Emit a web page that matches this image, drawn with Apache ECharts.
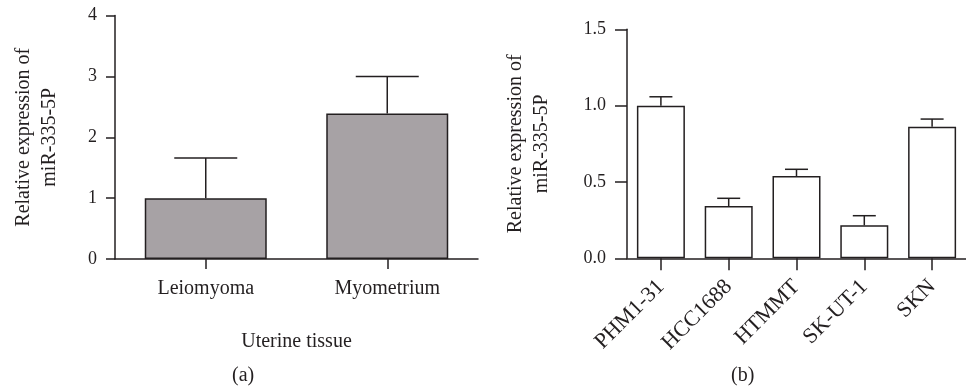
<!DOCTYPE html>
<html>
<head>
<meta charset="utf-8">
<script src="https://cdn.jsdelivr.net/npm/echarts@6/dist/echarts.min.js"></script>
<style>
  html, body { margin: 0; padding: 0; background: #fff; }
  #chart { width: 966px; height: 392px; }
</style>
</head>
<body>
<div id="chart"></div>
<script>
// panel (a): uterine tissue
const tissueCats = ['Leiomyoma', 'Myometrium'];
const tissueMean = [1.0, 2.39];
const tissueErrTop = [1.66, 3.0];

// panel (b): cell lines
const cellCats = ['PHM1-31', 'HCC1688', 'HTMMT', 'SK-UT-1', 'SKN'];
const cellMean = [1.0, 0.342, 0.539, 0.216, 0.862];
const cellErrTop = [1.058, 0.393, 0.583, 0.279, 0.912];

const ink = '#231f20';
const font = 'Liberation Serif';

const chart = echarts.init(document.getElementById('chart'));

const errorSeries = (xi, mean, top, cap) => ({
  type: 'custom',
  xAxisIndex: xi,
  yAxisIndex: xi,
  data: mean.map((m, i) => [i, m, top[i]]),
  encode: { x: 0, y: [1, 2] },
  silent: true,
  z: 3,
  renderItem: (params, api) => {
    const base = api.coord([api.value(0), api.value(1)]);
    const tip = api.coord([api.value(0), api.value(2)]);
    const st = { stroke: ink, lineWidth: 1.5 };
    return {
      type: 'group',
      children: [
        { type: 'line', shape: { x1: base[0], y1: base[1], x2: tip[0], y2: tip[1] }, style: st },
        { type: 'line', shape: { x1: tip[0] - cap / 2, y1: tip[1], x2: tip[0] + cap / 2, y2: tip[1] }, style: st }
      ]
    };
  }
});

const axisLine = { show: true, lineStyle: { color: ink, width: 1.5 } };
const nameStyle = { fontFamily: font, fontSize: 20, color: ink, lineHeight: 26 };

const option = {
  animation: false,
  backgroundColor: '#fff',
  textStyle: { fontFamily: font },
  grid: [
    { left: 115, top: 15.5, width: 363, height: 243.5 },
    { left: 627, top: 29.3, width: 350, height: 229 }
  ],
  xAxis: [
    {
      gridIndex: 0,
      type: 'category',
      data: tissueCats,
      axisLine,
      axisTick: { show: true, alignWithLabel: true, length: 10, lineStyle: { color: ink, width: 1.5 } },
      axisLabel: { fontFamily: font, fontSize: 20, color: ink, margin: 20 },
      name: 'Uterine tissue',
      nameLocation: 'middle',
      nameGap: 70,
      nameTextStyle: nameStyle
    },
    {
      gridIndex: 1,
      type: 'category',
      data: cellCats,
      axisLine,
      axisTick: { show: true, alignWithLabel: true, length: 12, lineStyle: { color: ink, width: 1.5 } },
      axisLabel: { fontFamily: font, fontSize: 22, color: ink, margin: 25, rotate: 45 }
    }
  ],
  yAxis: [
    {
      gridIndex: 0,
      type: 'value',
      min: 0,
      max: 4,
      interval: 1,
      axisLine,
      axisTick: { show: true, length: 9, lineStyle: { color: ink, width: 1.5 } },
      splitLine: { show: false },
      axisLabel: { fontFamily: font, fontSize: 18, color: ink, margin: 18 },
      name: 'Relative expression of\nmiR-335-5P',
      nameLocation: 'middle',
      nameRotate: 90,
      nameGap: 52,
      nameTextStyle: nameStyle
    },
    {
      gridIndex: 1,
      type: 'value',
      min: 0,
      max: 1.5,
      interval: 0.5,
      axisLine,
      axisTick: { show: true, length: 12, lineStyle: { color: ink, width: 1.5 } },
      splitLine: { show: false },
      axisLabel: { fontFamily: font, fontSize: 18, color: ink, margin: 21, formatter: (v) => v.toFixed(1) },
      name: 'Relative expression of\nmiR-335-5P',
      nameLocation: 'middle',
      nameRotate: 90,
      nameGap: 72,
      nameTextStyle: nameStyle
    }
  ],
  series: [
    {
      type: 'bar',
      xAxisIndex: 0,
      yAxisIndex: 0,
      data: tissueMean,
      barWidth: 122,
      itemStyle: { color: '#a7a2a5', borderColor: ink, borderWidth: 1.5 }
    },
    errorSeries(0, tissueMean, tissueErrTop, 63),
    {
      type: 'bar',
      xAxisIndex: 1,
      yAxisIndex: 1,
      data: cellMean,
      barWidth: 48,
      itemStyle: { color: '#fff', borderColor: ink, borderWidth: 1.5 }
    },
    errorSeries(1, cellMean, cellErrTop, 23)
  ],
  graphic: [
    { type: 'text', left: 232, top: 366, style: { text: '(a)', font: '20px "Liberation Serif"', fill: ink } },
    { type: 'text', left: 731, top: 366, style: { text: '(b)', font: '20px "Liberation Serif"', fill: ink } }
  ]
};

chart.setOption(option);
</script>
</body>
</html>
